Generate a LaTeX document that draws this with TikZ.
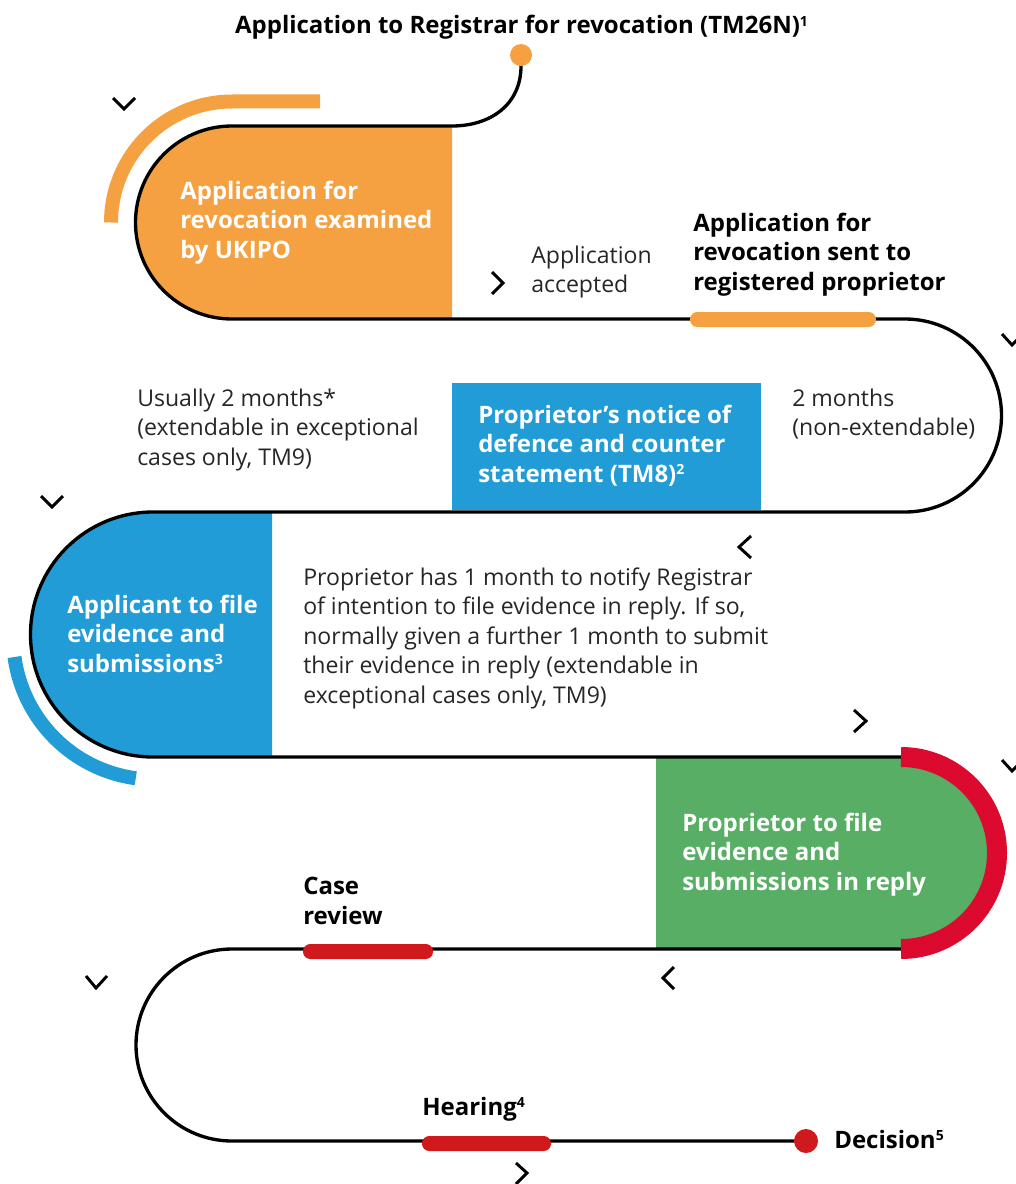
\documentclass[tikz,border=0pt]{standalone}
\usepackage{fontspec}
\setmainfont{Open Sans}
\definecolor{cOrange}{HTML}{F5A142}
\definecolor{cBlue}{HTML}{219CD6}
\definecolor{cGreen}{HTML}{57AE64}
\definecolor{cCrimson}{HTML}{DD0A2F}
\definecolor{cRed}{HTML}{CF191D}
\newcommand{\supnum}[1]{\raisebox{0.33em}{\fontsize{10.5}{10.5}\selectfont\bfseries #1}}
\begin{document}
\begin{tikzpicture}[x=0.75pt,y=-0.75pt,
  route/.style={line width=2.5pt, black},
  chev/.style={line width=2.2pt, black, miter limit=10},
  bt/.style={font=\fontsize{18}{22.1}\selectfont\bfseries, anchor=base west, inner sep=0pt, align=left},
  wt/.style={bt, text=white},
  rt/.style={font=\fontsize{17.3}{22.1}\selectfont, anchor=base west, inner sep=0pt, align=left, text=black!85},
  bar/.style={rounded corners=5.5pt},
  band/.style={line width=10.5pt}]
\useasboundingbox (0,0) rectangle (1016,1184);
% key coordinates of the route
\coordinate (s0) at (521,55);
\coordinate (s1) at (521,66);
\coordinate (a1) at (452,126);
\coordinate (a2) at (232,126);
\coordinate (b1) at (905,319);
\coordinate (c1) at (153,512);
\coordinate (d1) at (901,757);
\coordinate (e1) at (232,949);
\coordinate (end) at (806,1141);
% coloured blocks
\fill[cOrange] (a1) -- (a2) arc[start angle=270,end angle=90,radius=96.5] -- (452,319) -- cycle;
\fill[cBlue] (452,383) rectangle (761,510);
\fill[cBlue] (272,512) -- (c1) arc[start angle=270,end angle=90,radius=122.5] -- (272,757) -- cycle;
\fill[cGreen] (656,757) -- (d1) arc[start angle=-90,end angle=90,radius=96] -- (656,949) -- cycle;
% outer arcs
\draw[cOrange,band] (320,101.5) -- (232,101.5) arc[start angle=270,end angle=180,radius=121];
\draw[cBlue,band] (14.5,657) arc[start angle=172.3,end angle=97.7,radius=141.5];
% route
\draw[route] (s0) -- (s1) .. controls (521,105) and (490,126) .. (a1) -- (a2)
  arc[start angle=270,end angle=90,radius=96.5] -- (b1)
  arc[start angle=-90,end angle=90,radius=96.5] -- (c1)
  arc[start angle=270,end angle=90,radius=122.5] -- (d1)
  arc[start angle=-90,end angle=90,radius=96] -- (e1)
  arc[start angle=270,end angle=90,radius=96] -- (end);
\draw[cCrimson,line width=15pt] (d1) arc[start angle=-90,end angle=90,radius=96];
% markers on the route
\fill[cOrange,bar] (690,312) rectangle (876,327);
\fill[cRed,bar] (303,944) rectangle (433,959);
\fill[cRed,bar] (422,1136) rectangle (551,1151);
\fill[cOrange] (s0) circle[radius=11];
\fill[cRed] (end) circle[radius=12];
% chevrons
\draw[chev] (113,98) -- (124,109) -- (135,98);
\draw[chev] (492,272) -- (503,283) -- (492,294);
\draw[chev] (1002,334) -- (1012,345) -- (1023,334);
\draw[chev] (41,496) -- (52,507) -- (63,496);
\draw[chev] (751,536) -- (739,547) -- (751,558);
\draw[chev] (854,710) -- (866,721) -- (854,732);
\draw[chev] (1002,760) -- (1012,771) -- (1023,760);
\draw[chev] (674,967) -- (663,978) -- (674,989);
\draw[chev] (86,976) -- (96,988) -- (107,976);
\draw[chev] (516,1163) -- (527,1173) -- (516,1184);
% texts (anchored at the baseline of their last line)
\node[bt,anchor=base] (title) at (521.5,34) {Application to Registrar for revocation (TM26N)\supnum{1}};
\node[wt] (t1) at (180,258) {Application for\\revocation examined\\by UKIPO};
\node[rt] (t2) at (531,292.5) {Application\\accepted};
\node[bt] (t3) at (693,290) {Application for\\revocation sent to\\registered proprietor};
\node[rt] (t4) at (137,465) {Usually 2 months*\\(extendable in exceptional\\cases only, TM9)};
\node[wt] (t5) at (478,482) {Proprietor’s notice of\\defence and counter\\statement (TM8)\supnum{2}};
\node[rt] (t6) at (792,435.5) {2 months\\(non-extendable)};
\node[wt] (t7) at (67,672) {Applicant to file\\evidence and\\submissions\supnum{3}};
\node[rt] (t8) at (303,703) {Proprietor has 1 month to notify Registrar\\of intention to file evidence in reply. If so,\\normally given a further 1 month to submit\\their evidence in reply (extendable in\\exceptional cases only, TM9)};
\node[wt] (t9) at (682,890) {Proprietor to file\\evidence and\\submissions in reply};
\node[bt] (t10) at (303,924) {Case\\review};
\node[bt] (t11) at (422,1115) {Hearing\supnum{4}};
\node[bt] (t12) at (834,1148) {Decision\supnum{5}};
\end{tikzpicture}
\end{document}
